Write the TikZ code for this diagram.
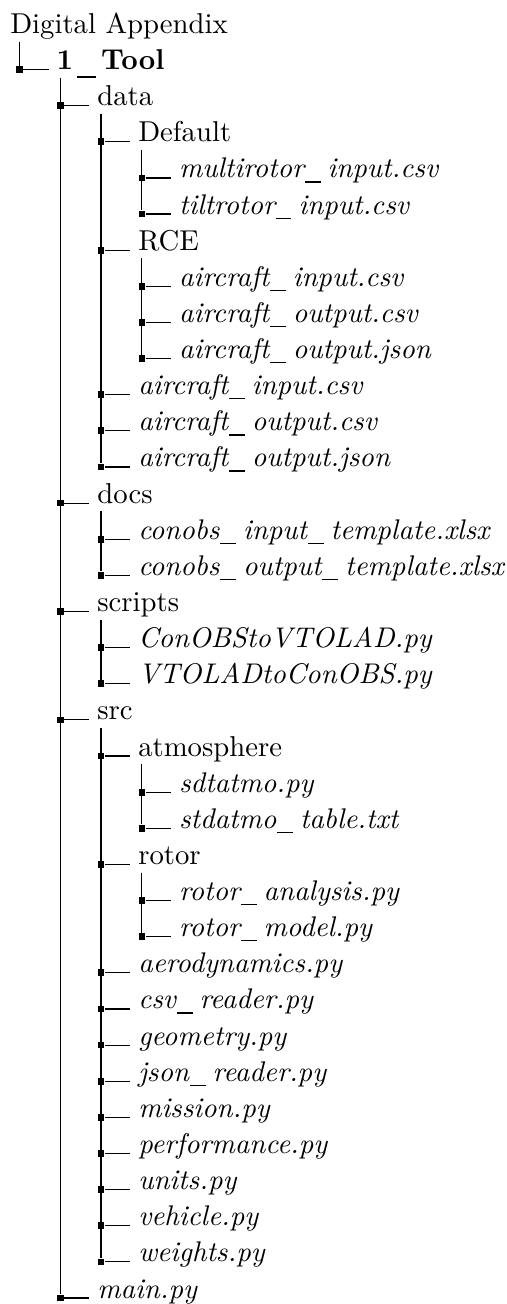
\documentclass[tikz,border=0pt]{standalone}
\usepackage{amsmath}
\usepackage{tikz}

\newcommand{\us}{\kern.03em\rule[-1.6pt]{.55em}{.42pt}\kern.25em}
\newcommand{\fname}[1]{{\fontsize{9.7pt}{11pt}\selectfont\itshape #1}}

\tikzset{
  entry/.style={anchor=base west, inner xsep=2.5pt, inner ysep=2.6pt, text depth=0pt,
    font=\fontsize{9.8pt}{12pt}\selectfont},
  knot/.style={fill, inner sep=0pt, minimum size=2.3pt},
}

\begin{document}
\begin{tikzpicture}[x=1pt,y=-1pt]
  \useasboundingbox (0,0) rectangle (173,445);
  \node[entry] (root) at (0.8,11.4) {Digital Appendix};
  \foreach \lvl/\nm/\pa/\txt [count=\row] in {
      1/tool/root/{\textbf{1\kern.15em\rule[-2.9pt]{.66em}{.55pt}\kern.17em Tool}},
      2/data/tool/data,
      3/default/data/Default,
      4/multi/default/{\fname{multirotor\us input.csv}},
      4/tilt/default/{\fname{tiltrotor\us input.csv}},
      3/rce/data/RCE,
      4/rceIn/rce/{\fname{aircraft\us input.csv}},
      4/rceOut/rce/{\fname{aircraft\us output.csv}},
      4/rceJson/rce/{\fname{aircraft\us output.json}},
      3/dataIn/data/{\fname{aircraft\us input.csv}},
      3/dataOut/data/{\fname{aircraft\us output.csv}},
      3/dataJson/data/{\fname{aircraft\us output.json}},
      2/docs/tool/docs,
      3/inTpl/docs/{\fname{conobs\us input\us template.xlsx}},
      3/outTpl/docs/{\fname{conobs\us output\us template.xlsx}},
      2/scripts/tool/scripts,
      3/toVtolad/scripts/{\fname{ConOBStoVTOLAD.py}},
      3/toConobs/scripts/{\fname{VTOLADtoConOBS.py}},
      2/src/tool/src,
      3/atmo/src/atmosphere,
      4/sdtatmo/atmo/{\fname{sdtatmo.py}},
      4/stdTable/atmo/{\fname{stdatmo\us table.txt}},
      3/rotor/src/rotor,
      4/rotorAn/rotor/{\fname{rotor\us analysis.py}},
      4/rotorMod/rotor/{\fname{rotor\us model.py}},
      3/aero/src/{\fname{aerodynamics.py}},
      3/csv/src/{\fname{csv\us reader.py}},
      3/geom/src/{\fname{geometry.py}},
      3/json/src/{\fname{json\us reader.py}},
      3/mission/src/{\fname{mission.py}},
      3/perf/src/{\fname{performance.py}},
      3/units/src/{\fname{units.py}},
      3/vehicle/src/{\fname{vehicle.py}},
      3/weights/src/{\fname{weights.py}},
      2/main/tool/{\fname{main.py}}}{
      \node[knot] (k-\nm) at ({6.6+(\lvl-1)*13.94},{11.4+\row*12.33}) {};
      \node[entry] (\nm) at ([xshift=10pt]k-\nm.center) {\txt};
      \draw (\pa.south -| k-\nm) -- (k-\nm);
      \draw (k-\nm) -- (\nm.base west);
  }
\end{tikzpicture}
\end{document}
